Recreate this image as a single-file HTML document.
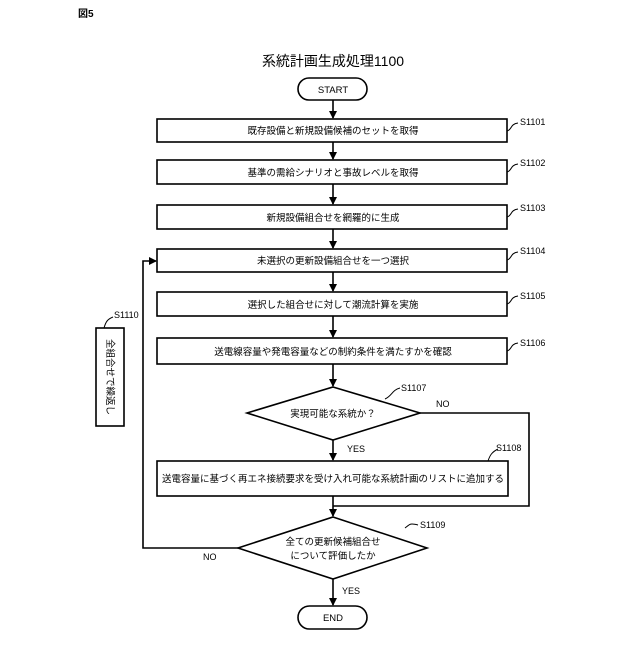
<!DOCTYPE html>
<html><head><meta charset="utf-8"><style>
body{margin:0;background:#fff}
svg text{font-family:"Liberation Sans","Noto Sans CJK JP",sans-serif;fill:#000}
</style></head><body>
<svg width="640" height="640" viewBox="0 0 640 640" xmlns="http://www.w3.org/2000/svg">
<defs><marker id="a" markerWidth="8" markerHeight="8" refX="7" refY="4" orient="auto" markerUnits="userSpaceOnUse"><path d="M0,0 L8,4 L0,8 z" fill="#000"/></marker></defs>
<g fill="none" stroke="#000" stroke-width="1.6">
<rect x="298" y="78" width="69" height="22" rx="11"/>
<rect x="157" y="119" width="350" height="23"/>
<rect x="157" y="160" width="350" height="24"/>
<rect x="157" y="205" width="350" height="24"/>
<rect x="157" y="249" width="350" height="23"/>
<rect x="157" y="292" width="350" height="24"/>
<rect x="157" y="338" width="350" height="26"/>
<path d="M333,387 L420,413 L333,440 L247,413 Z"/>
<rect x="157" y="461" width="351" height="35"/>
<path d="M333,517 L427,548 L333,579 L238,548 Z"/>
<rect x="298" y="606" width="69" height="23" rx="11.5"/>
<rect x="96" y="328" width="28" height="98"/>
<g marker-end="url(#a)">
<line x1="333" y1="100" x2="333" y2="118"/>
<line x1="333" y1="142" x2="333" y2="159"/>
<line x1="333" y1="184" x2="333" y2="204"/>
<line x1="333" y1="229" x2="333" y2="248"/>
<line x1="333" y1="272" x2="333" y2="291"/>
<line x1="333" y1="316" x2="333" y2="337"/>
<line x1="333" y1="364" x2="333" y2="386"/>
<line x1="333" y1="440" x2="333" y2="460"/>
<line x1="333" y1="496" x2="333" y2="516"/>
<line x1="333" y1="579" x2="333" y2="605"/>
<polyline points="238,548 143,548 143,261 156,261"/>
</g>
<polyline points="420,413 529,413 529,506 333,506"/>
<g stroke-width="1">
<path d="M507,131 C512,130 510,124 518,123"/>
<path d="M507,172 C512,171 510,165 518,164"/>
<path d="M507,217 C512,216 510,210 518,209"/>
<path d="M507,260 C512,259 510,253 518,252"/>
<path d="M507,304 C512,303 510,297 518,296"/>
<path d="M507,351 C512,350 510,344 518,343"/>
<path d="M385,399 C392,396 392,390 400,388"/>
<path d="M488,461 C490,455 492,452 498,449"/>
<path d="M405,528 C410,524 410,523 418,525"/>
<path d="M104,328 C106,321 108,319 113,317"/>
</g>
</g>
<g font-size="9">
<text x="520" y="125">S1101</text><text x="520" y="166">S1102</text><text x="520" y="211">S1103</text>
<text x="520" y="254">S1104</text><text x="520" y="299">S1105</text><text x="520" y="346">S1106</text>
<text x="401" y="391">S1107</text><text x="496" y="451">S1108</text><text x="420" y="528">S1109</text>
<text x="114" y="318">S1110</text>
<text x="436" y="407">NO</text><text x="347" y="452">YES</text><text x="203" y="560">NO</text><text x="342" y="594">YES</text>
</g>
<text x="78" y="17" font-size="10" font-weight="bold">図5</text>
<text x="333" y="66" font-size="14" text-anchor="middle">系統計画生成処理1100</text>
<g font-size="9.5" text-anchor="middle">
<text x="333" y="93">START</text>
<text x="333" y="134">既存設備と新規設備候補のセットを取得</text>
<text x="333" y="176">基準の需給シナリオと事故レベルを取得</text>
<text x="333" y="221">新規設備組合せを網羅的に生成</text>
<text x="333" y="264">未選択の更新設備組合せを一つ選択</text>
<text x="333" y="308">選択した組合せに対して潮流計算を実施</text>
<text x="333" y="355">送電線容量や発電容量などの制約条件を満たすかを確認</text>
<text x="333" y="417">実現可能な系統か？</text>
<text x="333" y="482">送電容量に基づく再エネ接続要求を受け入れ可能な系統計画のリストに追加する</text>
<text x="333" y="545">全ての更新候補組合せ</text>
<text x="333" y="559">について評価したか</text>
<text x="333" y="621">END</text>
</g>
<text x="0" y="0" font-size="9.5" text-anchor="middle" transform="translate(107,377) rotate(90)">全組合せで繰返し</text>
</svg>
</body></html>
